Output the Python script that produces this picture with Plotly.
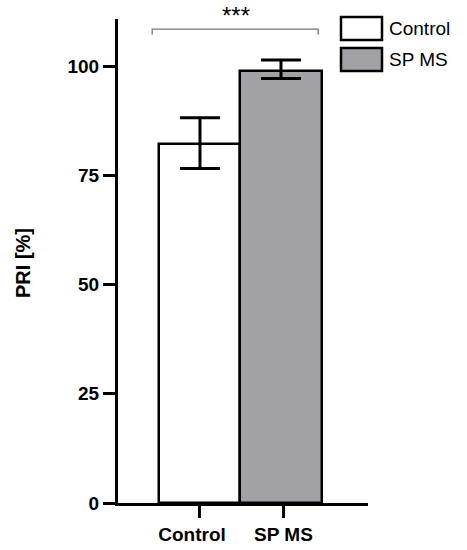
import plotly.graph_objects as go

# bar chart data
groups = ["Control", "SP MS"]
means = [82.2, 99.0]
err_plus = [6.0, 2.4]
err_minus = [5.6, 1.8]
fills = ["#ffffff", "#a2a2a6"]
y_ticks = [0, 25, 50, 75, 100]
signif_label = "***"

FONT = "Arial, Liberation Sans, sans-serif"

W, H = 467, 550
L, R, T, B = 118, 99, 19, 47
pw, ph = W - L - R, H - T - B

fig = go.Figure()
for i, g in enumerate(groups):
    fig.add_trace(go.Bar(
        x=[i], y=[means[i]], name=g, width=1.0,
        marker=dict(color=fills[i], line=dict(color="black", width=2.5)),
        error_y=dict(type="data", symmetric=False, array=[err_plus[i]],
                     arrayminus=[err_minus[i]], color="black",
                     thickness=3, width=20),
        showlegend=False,
    ))

# significance bracket
fig.add_shape(type="path", xref="x", yref="y",
              path="M -0.59 107.2 L -0.59 108.5 L 1.46 108.5 L 1.46 107.2",
              line=dict(color="#777777", width=1.3))


# pixel -> paper coords
def px(xp):
    return (xp - L) / pw


def py(yp):
    return (H - B - yp) / ph


fig.add_annotation(x=px(236), y=py(15), xref="paper", yref="paper", text=signif_label,
                   showarrow=False, xanchor="center", yanchor="middle", borderpad=0,
                   font=dict(family=FONT, size=24, color="black"))

# legend drawn by hand (boxes + labels)
legend_rows = [(17, 40), (48, 71)]
for (y0, y1), g, c in zip(legend_rows, groups, fills):
    fig.add_shape(type="rect", xref="paper", yref="paper",
                  x0=px(341), x1=px(382), y0=py(y1), y1=py(y0),
                  fillcolor=c, line=dict(color="black", width=2.5))
    fig.add_annotation(x=px(387), y=py((y0 + y1) / 2), xref="paper", yref="paper",
                       text=g, showarrow=False, xanchor="left", yanchor="middle",
                       font=dict(family=FONT, size=19, color="black"))

# y axis title
fig.add_annotation(x=px(23), y=py(263), xref="paper", yref="paper",
                   text="<b>PRI [%]</b>", textangle=-90, showarrow=False,
                   xanchor="center", yanchor="middle",
                   font=dict(family=FONT, size=20, color="black"))

fig.update_layout(
    width=W, height=H,
    margin=dict(l=L, r=R, t=T, b=B, autoexpand=False),
    plot_bgcolor="white", paper_bgcolor="white",
    bargap=0,
    font=dict(family=FONT, color="black"),
    xaxis=dict(range=[-1.012, 2.074], tickvals=[0, 1.03],
               ticktext=["<b>Control\u00a0\u00a0\u00a0</b>", "<b>SP MS</b>"],
               ticks="outside", ticklen=12, tickwidth=3, tickcolor="black",
               showline=True, linewidth=3, linecolor="black",
               showgrid=False, zeroline=False,
               tickfont=dict(family=FONT, size=19, color="black")),
    yaxis=dict(range=[0, 110.8], tickvals=y_ticks,
               ticktext=["<b>%d</b>" % v for v in y_ticks],
               ticks="outside", ticklen=12, tickwidth=3, tickcolor="black",
               showline=True, linewidth=3, linecolor="black",
               showgrid=False, zeroline=False,
               tickfont=dict(family=FONT, size=19, color="black")),
)

# drop the default 8px body margin so the figure fills the 467x550 window
fig.write_html("out.html", config={"displayModeBar": False},
               post_script="document.body.style.margin='0';")
